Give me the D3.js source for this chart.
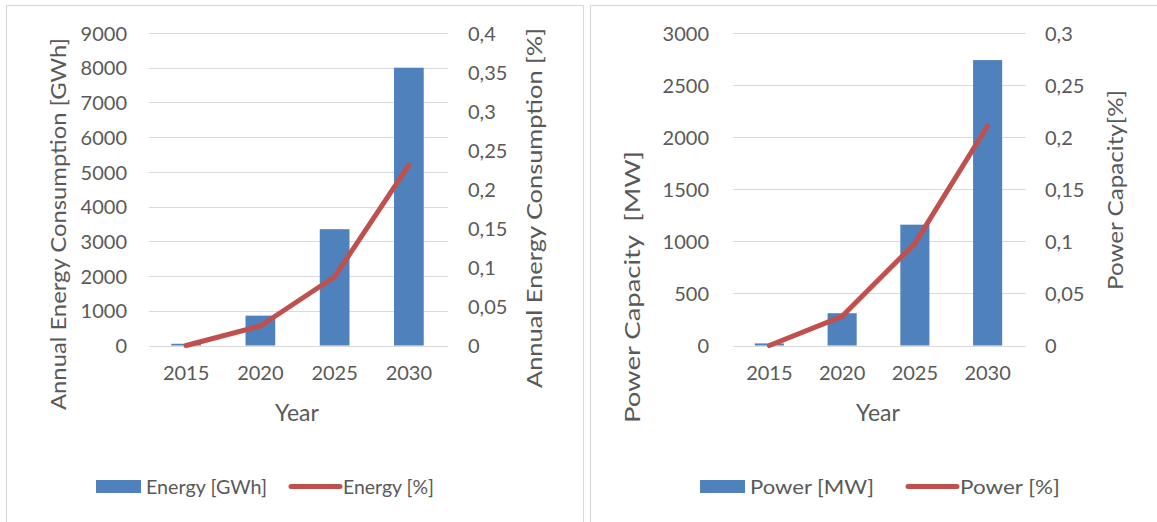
<!DOCTYPE html>
<html>
<head>
<meta charset="utf-8">
<script src="https://cdn.jsdelivr.net/npm/d3@7"></script>
<style>
  html, body { margin: 0; padding: 0; background: #fff; }
  svg text { font-family: Lato, "Open Sans", sans-serif; fill: #595959; }
</style>
</head>
<body>
<svg id="chart" width="1157" height="522"></svg>
<script>
// Shared categories
const years = ["2015", "2020", "2025", "2030"];

// Energy panel
const energyGWh = [50, 860, 3350, 8000];
const energyPct = [0, 0.025, 0.088, 0.231];
const energyLeftTicks = [0, 1000, 2000, 3000, 4000, 5000, 6000, 7000, 8000, 9000];
const energyRightTicks = [0, 0.05, 0.1, 0.15, 0.2, 0.25, 0.3, 0.35, 0.4];

// Power panel
const powerMW = [20, 310, 1160, 2740];
const powerPct = [0, 0.028, 0.098, 0.211];
const powerLeftTicks = [0, 500, 1000, 1500, 2000, 2500, 3000];
const powerRightTicks = [0, 0.05, 0.1, 0.15, 0.2, 0.25, 0.3];

const BAR = "#4F81BD", LINE = "#C0504D", GRID = "#d9d9d9", TEXT = "#595959";
const svg = d3.select("#chart");
const comma = d => String(+d.toFixed(2)).replace(".", ",");

// text helper: fixed rendered length keeps the label extents stable
function fitText(sel, len) {
  return sel.attr("textLength", len).attr("lengthAdjust", "spacingAndGlyphs");
}

function panel(cfg) {
  const g = svg.append("g");
  // panel frame
  g.append("rect")
    .attr("x", cfg.frame[0] + 0.5).attr("y", 5.5)
    .attr("width", cfg.frame[1] - cfg.frame[0]).attr("height", 530)
    .attr("fill", "none").attr("stroke", GRID).attr("stroke-width", 1.2);

  const x = d3.scaleBand().domain(years).range(cfg.xRange)
    .paddingInner(0.6).paddingOuter(0.3);
  const yL = d3.scaleLinear().domain(cfg.leftDomain).range([345.5, 33]);
  const yR = d3.scaleLinear().domain(cfg.rightDomain).range([345.5, 33]);

  // gridlines
  g.append("g").selectAll("line").data(cfg.leftTicks).join("line")
    .attr("x1", cfg.xRange[0]).attr("x2", cfg.xRange[1] + 2)
    .attr("y1", d => Math.round(yL(d)) + 0.5).attr("y2", d => Math.round(yL(d)) + 0.5)
    .attr("stroke", GRID).attr("stroke-width", 1.2);

  // left axis
  const axL = g.append("g").attr("transform", `translate(${cfg.leftLabelX},0)`)
    .call(d3.axisLeft(yL).tickValues(cfg.leftTicks).tickSize(0).tickPadding(0).tickFormat(d3.format("d")));
  axL.select(".domain").remove();
  axL.selectAll("text").attr("font-size", 20).attr("fill", TEXT).attr("dy", "0.36em")
    .style("font-family", "Lato, sans-serif");

  // right axis
  const axR = g.append("g").attr("transform", `translate(${cfg.rightLabelX},0)`)
    .call(d3.axisRight(yR).tickValues(cfg.rightTicks).tickSize(0).tickPadding(0).tickFormat(comma));
  axR.select(".domain").remove();
  axR.selectAll("text").attr("font-size", 20).attr("fill", TEXT).attr("dy", "0.36em")
    .style("font-family", "Lato, sans-serif");

  // bars
  g.append("g").selectAll("rect").data(cfg.bars).join("rect")
    .attr("x", (d, i) => x(years[i]))
    .attr("width", x.bandwidth())
    .attr("y", d => yL(d))
    .attr("height", d => yL(0) - yL(d))
    .attr("fill", BAR);

  // line
  const line = d3.line()
    .x((d, i) => x(years[i]) + x.bandwidth() / 2)
    .y(d => yR(d));
  g.append("path").datum(cfg.pct).attr("d", line)
    .attr("fill", "none").attr("stroke", LINE).attr("stroke-width", 5)
    .attr("stroke-linejoin", "round").attr("stroke-linecap", "round");

  // category axis
  const axX = g.append("g").attr("transform", "translate(0,366)")
    .call(d3.axisBottom(x).tickSize(0).tickPadding(0));
  axX.select(".domain").remove();
  axX.selectAll("text").attr("font-size", 20).attr("fill", TEXT).attr("dy", "0.71em")
    .style("font-family", "Lato, sans-serif");

  // axis titles
  g.append("text").attr("x", cfg.xTitleX).attr("y", 421)
    .attr("text-anchor", "middle").attr("font-size", 23).text("Year");
  fitText(g.append("text")
    .attr("transform", `translate(${cfg.leftTitle[0]},${cfg.leftTitle[1]}) rotate(-90)`)
    .attr("text-anchor", "middle").attr("font-size", 22).attr("dy", "0.35em")
    .style("white-space", "pre")
    .text(cfg.leftTitle[2]), cfg.leftTitle[3]);
  fitText(g.append("text")
    .attr("transform", `translate(${cfg.rightTitle[0]},${cfg.rightTitle[1]}) rotate(-90)`)
    .attr("text-anchor", "middle").attr("font-size", 22).attr("dy", "0.35em")
    .text(cfg.rightTitle[2]), cfg.rightTitle[3]);

  // legend
  const lg = g.append("g");
  const L = cfg.legend;
  lg.append("rect").attr("x", L.sw).attr("y", 480).attr("width", 45).attr("height", 13).attr("fill", BAR);
  fitText(lg.append("text").attr("x", L.sw + 50).attr("y", 487).attr("dy", "0.35em")
    .attr("font-size", 20).text(L.barLabel), L.barLen);
  lg.append("line").attr("x1", L.ln).attr("x2", L.ln + 49).attr("y1", 486.5).attr("y2", 486.5)
    .attr("stroke", LINE).attr("stroke-width", 5).attr("stroke-linecap", "round");
  fitText(lg.append("text").attr("x", L.ln + 52).attr("y", 487).attr("dy", "0.35em")
    .attr("font-size", 20).text(L.lineLabel), L.lineLen);
}

panel({
  frame: [6, 583],
  xRange: [149, 446],
  leftDomain: [0, 9000], rightDomain: [0, 0.4],
  leftTicks: energyLeftTicks, rightTicks: energyRightTicks,
  leftLabelX: 127, rightLabelX: 468,
  bars: energyGWh, pct: energyPct,
  xTitleX: 297,
  leftTitle: [58, 224, "Annual Energy Consumption [GWh]", 372],
  rightTitle: [534, 208, "Annual Energy Consumption [%]", 360],
  legend: { sw: 96, ln: 291, barLabel: "Energy [GWh]", lineLabel: "Energy [%]", barLen: 121, lineLen: 91 }
});

panel({
  frame: [590, 1200],
  xRange: [733, 1024],
  leftDomain: [0, 3000], rightDomain: [0, 0.3],
  leftTicks: powerLeftTicks, rightTicks: powerRightTicks,
  leftLabelX: 709, rightLabelX: 1045,
  bars: powerMW, pct: powerPct,
  xTitleX: 878,
  leftTitle: [632, 287, "Power Capacity  [MW]", 272],
  rightTitle: [1115, 190, "Power Capacity[%]", 200],
  legend: { sw: 700, ln: 908, barLabel: "Power [MW]", lineLabel: "Power [%]", barLen: 124, lineLen: 100 }
});
</script>
</body>
</html>
